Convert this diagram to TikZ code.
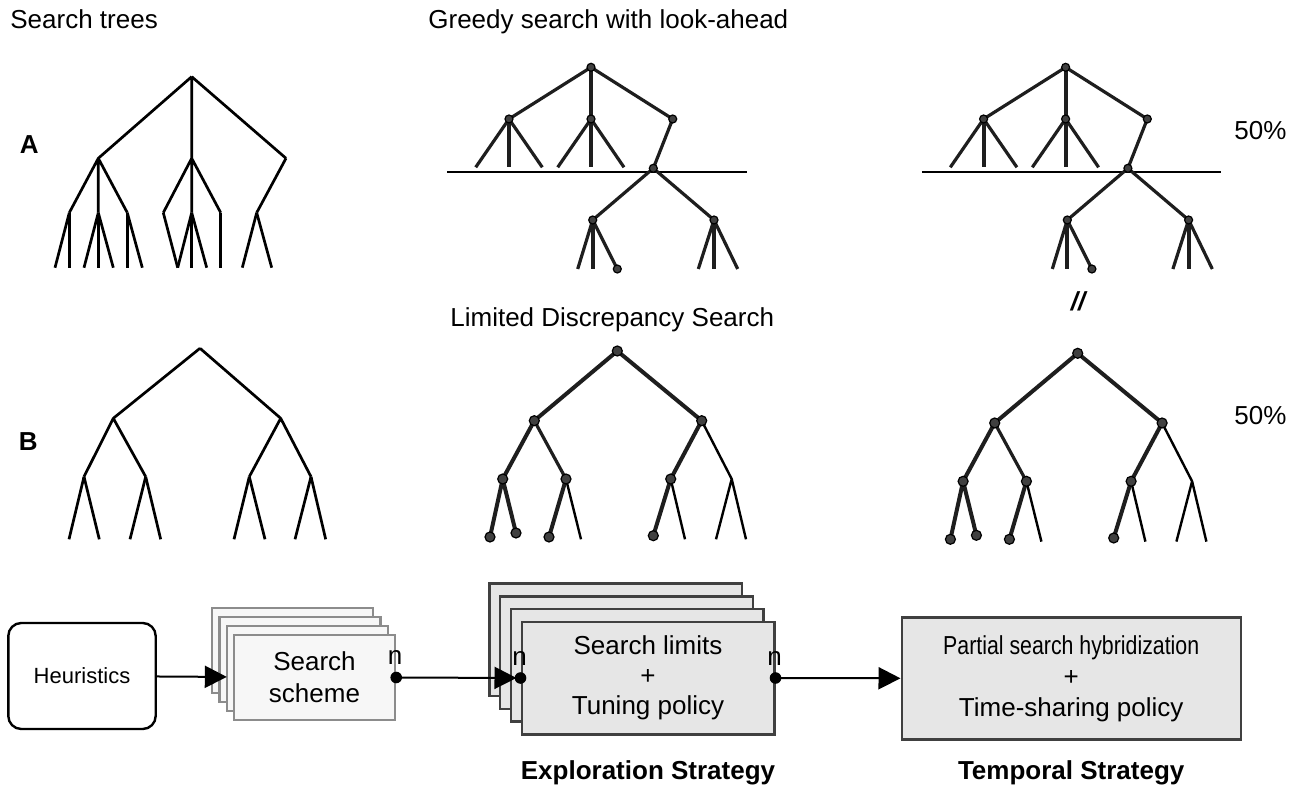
\documentclass[tikz,border=0pt]{standalone}
\usepackage{fontspec}
\setmainfont{Liberation Sans}
\newfontfamily\narrowsans[FakeStretch=0.82]{Liberation Sans}
\usetikzlibrary{arrows.meta, positioning}

\definecolor{boxgray}{HTML}{E6E6E6}
\definecolor{edgegray}{HTML}{404040}
\definecolor{lightbox}{HTML}{F7F7F7}
\definecolor{lightedge}{HTML}{8C8C8C}
\definecolor{treeink}{HTML}{1E1E1E}

\tikzset{
    lbl/.style={inner sep=0pt, font=\fontsize{13}{15}\selectfont},
    boldlbl/.style={inner sep=0pt, font=\fontsize{13}{15}\selectfont\bfseries},
    treeedge/.style={line width=1.35pt},
    greedyedge/.style={line width=1.6pt, treeink},
    vertedge/.style={line width=2pt, treeink},
    thickedge/.style={line width=2pt, treeink},
    thinedge/.style={line width=1.2pt},
    treedot/.style={fill=edgegray, draw=black, line width=0.6pt},
    startbox/.style={draw, rounded corners=6.5pt, line width=1.2pt, minimum width=73.7pt,
        minimum height=53pt, font=\fontsize{11}{13}\selectfont},
    schemebox/.style={draw=lightedge, fill=lightbox, line width=1.2pt, minimum width=80.5pt,
        minimum height=42.5pt, align=center, font=\fontsize{13}{16}\selectfont},
    explbox/.style={draw=edgegray, fill=boxgray, line width=1.2pt, minimum width=126.3pt,
        minimum height=56.3pt, align=center, font=\fontsize{13}{15}\selectfont},
    nmark/.style={inner sep=0pt, anchor=base, font=\fontsize{13}{15}\selectfont},
    flow/.style={-{Triangle[length=11pt, width=11pt]}, line width=1pt}
}

\begin{document}
\begin{tikzpicture}[x=0.5pt, y=-0.5pt]
\useasboundingbox (0,0) rectangle (1306,785);

% titles
\node[lbl, anchor=base west] (trees) at (10,28.3) {Search trees};
\node[lbl, anchor=base west] (greedy) at (428,28.3) {Greedy search with look-ahead};
\node[lbl, anchor=base west] (lds) at (450,326.7) {Limited Discrepancy Search};
\node[boldlbl, anchor=base] (rowa) at (29.3,153.3) {A};
\node[boldlbl, anchor=base] (rowb) at (28.3,450.7) {B};
\node[lbl, anchor=base west] (pcta) at (1234,140) {50\%};
\node[lbl, anchor=base west] (pctb) at (1234,425) {50\%};
\node[inner sep=0pt, anchor=base, font=\fontsize{13}{15}\selectfont\bfseries\itshape] (par) at (1078,311) {//};

% tree A
\coordinate (a0) at (191.7,76.7);
\coordinate (a1) at (98.3,158.3);
\coordinate (a2) at (191.7,158.3);
\coordinate (a3) at (286,158.3);
\coordinate (a11) at (69.3,212.7);
\coordinate (a12) at (98.3,212.7);
\coordinate (a13) at (127.3,212.7);
\coordinate (a21) at (163.3,212.7);
\coordinate (a22) at (191.7,212.7);
\coordinate (a23) at (220.7,212.7);
\coordinate (a31) at (256.7,212.7);
\draw[treeedge] (a0) -- (a1) (a0) -- (a2) (a0) -- (a3)
    (a1) -- (a11) (a1) -- (a12) (a1) -- (a13)
    (a2) -- (a21) (a2) -- (a22) (a2) -- (a23) (a3) -- (a31);
\foreach \p/\x in {a11/55, a11/69.3, a12/84, a12/98.3, a12/113.3, a13/127.3, a13/142.3,
    a21/177.7, a22/177.7, a22/191.7, a22/206.7, a23/220.7, a31/242.3, a31/271.7}
    \draw[treeedge] (\p) -- (\x,267.7);

% greedy trees with look-ahead
\foreach \dx/\t in {0/g, 474.6/h} {
\begin{scope}[shift={(\dx,0)}]
    \coordinate (\t0) at (591,67.3);
    \coordinate (\t1) at (509,119);
    \coordinate (\t2) at (591,119);
    \coordinate (\t3) at (672.7,119);
    \coordinate (\t4) at (653.3,168.3);
    \coordinate (\t5) at (592.7,220);
    \coordinate (\t6) at (714,220);
    \coordinate (\t7) at (617.3,269);
    \coordinate (\t l) at (447.3,172.3);
    \coordinate (\t r) at (746.7,172.3);
    \draw[line width=1.2pt] (\t l) -- (\t r);
    \draw[greedyedge] (\t0) -- (\t1) (\t0) -- (\t3) (\t3) -- (\t4) (\t4) -- (\t5) (\t4) -- (\t6)
        (\t1) -- (475.7,167.3) (\t1) -- (542.3,167.3) (\t2) -- (557.7,167.3) (\t2) -- (624,167.3)
        (\t5) -- (577.7,269) (\t5) -- (\t7) (\t6) -- (698.3,269) (\t6) -- (737.7,269);
    \draw[vertedge] (\t0) -- (\t2) (\t1) -- (509,167.3) (\t2) -- (591,167.3)
        (\t5) -- (592.7,269) (\t6) -- (714,269);
    \foreach \n in {0,...,7}
        \filldraw[treedot] (\t\n) circle (2pt);
\end{scope}
}

% tree B
\coordinate (b0) at (200,348.3);
\coordinate (b1) at (113.3,418.3);
\coordinate (b2) at (280.7,418.3);
\coordinate (b3) at (84,476.7);
\coordinate (b4) at (145.7,476.7);
\coordinate (b5) at (249.3,476.7);
\coordinate (b6) at (311,476.7);
\draw[treeedge] (b0) -- (b1) (b0) -- (b2) (b1) -- (b3) (b1) -- (b4) (b2) -- (b5) (b2) -- (b6);
\foreach \p/\x in {b3/69, b3/99.3, b4/130, b4/160.7, b5/234, b5/265, b6/295, b6/325.7}
    \draw[treeedge] (\p) -- (\x,539.3);

% limited discrepancy trees
\foreach \dx/\dy/\t in {0/0/d, 460.4/2.3/e} {
\begin{scope}[shift={(\dx,\dy)}]
    \coordinate (\t0) at (617.3,351);
    \coordinate (\t1) at (534.3,420.7);
    \coordinate (\t2) at (701.7,420.7);
    \coordinate (\t3) at (502.7,479);
    \coordinate (\t4) at (566,479);
    \coordinate (\t5) at (670.7,479);
    \coordinate (\t6) at (731.7,479);
    \coordinate (\t7) at (490,537);
    \coordinate (\t8) at (516,533);
    \coordinate (\t9) at (549,537);
    \coordinate (\t x) at (653.3,535.7);
    \draw[thinedge] (\t2) -- (\t6) (\t4) -- (581,539.3) (\t5) -- (685,539.3)
        (\t6) -- (716,539.3) (\t6) -- (746,539.3);
    \draw[thickedge] (\t0) -- (\t1) (\t0) -- (\t2) (\t1) -- (\t3) (\t2) -- (\t5)
        (\t3) -- (\t7) (\t3) -- (\t8) (\t4) -- (\t9) (\t5) -- (\t x);
    \draw[thickedge, line width=1.6pt] (\t1) -- (\t4);
    \foreach \n in {0,1,2,3,4,5,7,8,9,x}
        \filldraw[treedot] (\t\n) circle (2.5pt);
\end{scope}
}

% pipeline
\node[startbox] (heur) at (82,676) {Heuristics};

\coordinate (sc) at (314.5,677.5);
\foreach \k in {3,2,1}
    \node[schemebox] at ([shift={(-7.3*\k,-9*\k)}]sc) {};
\node[schemebox] (scheme) at (sc) {Search\\scheme};

\coordinate (ec) at (648,678);
\foreach \k in {3,2,1}
    \node[explbox] at ([shift={(-10.8*\k,-12.7*\k)}]ec) {};
\node[explbox] (expl) at (ec) {Search limits\\+\\Tuning policy};

\node[explbox, minimum width=169.5pt, minimum height=61pt, font=\fontsize{13}{15.5}\selectfont]
    (temporal) at (1071.2,678.3) {{\narrowsans Partial search hybridization}\\+\\Time-sharing policy};

\node[boldlbl, below=12.3pt of expl] (explname) {Exploration Strategy};
\node[boldlbl, below=9.8pt of temporal] (tempname) {Temporal Strategy};

\draw[flow, shorten >=3pt] (heur) -- (scheme);
\draw[flow, shorten >=2pt] (scheme.east) -- (expl.west);
\draw[flow] (expl.east) -- (temporal.west);

\foreach \p in {scheme.east, expl.west, expl.east} {
    \node[nmark] at ([shift={(-1,-13)}]\p) {n};
    \fill (\p) circle (2.9pt);
}

\end{tikzpicture}
\end{document}
